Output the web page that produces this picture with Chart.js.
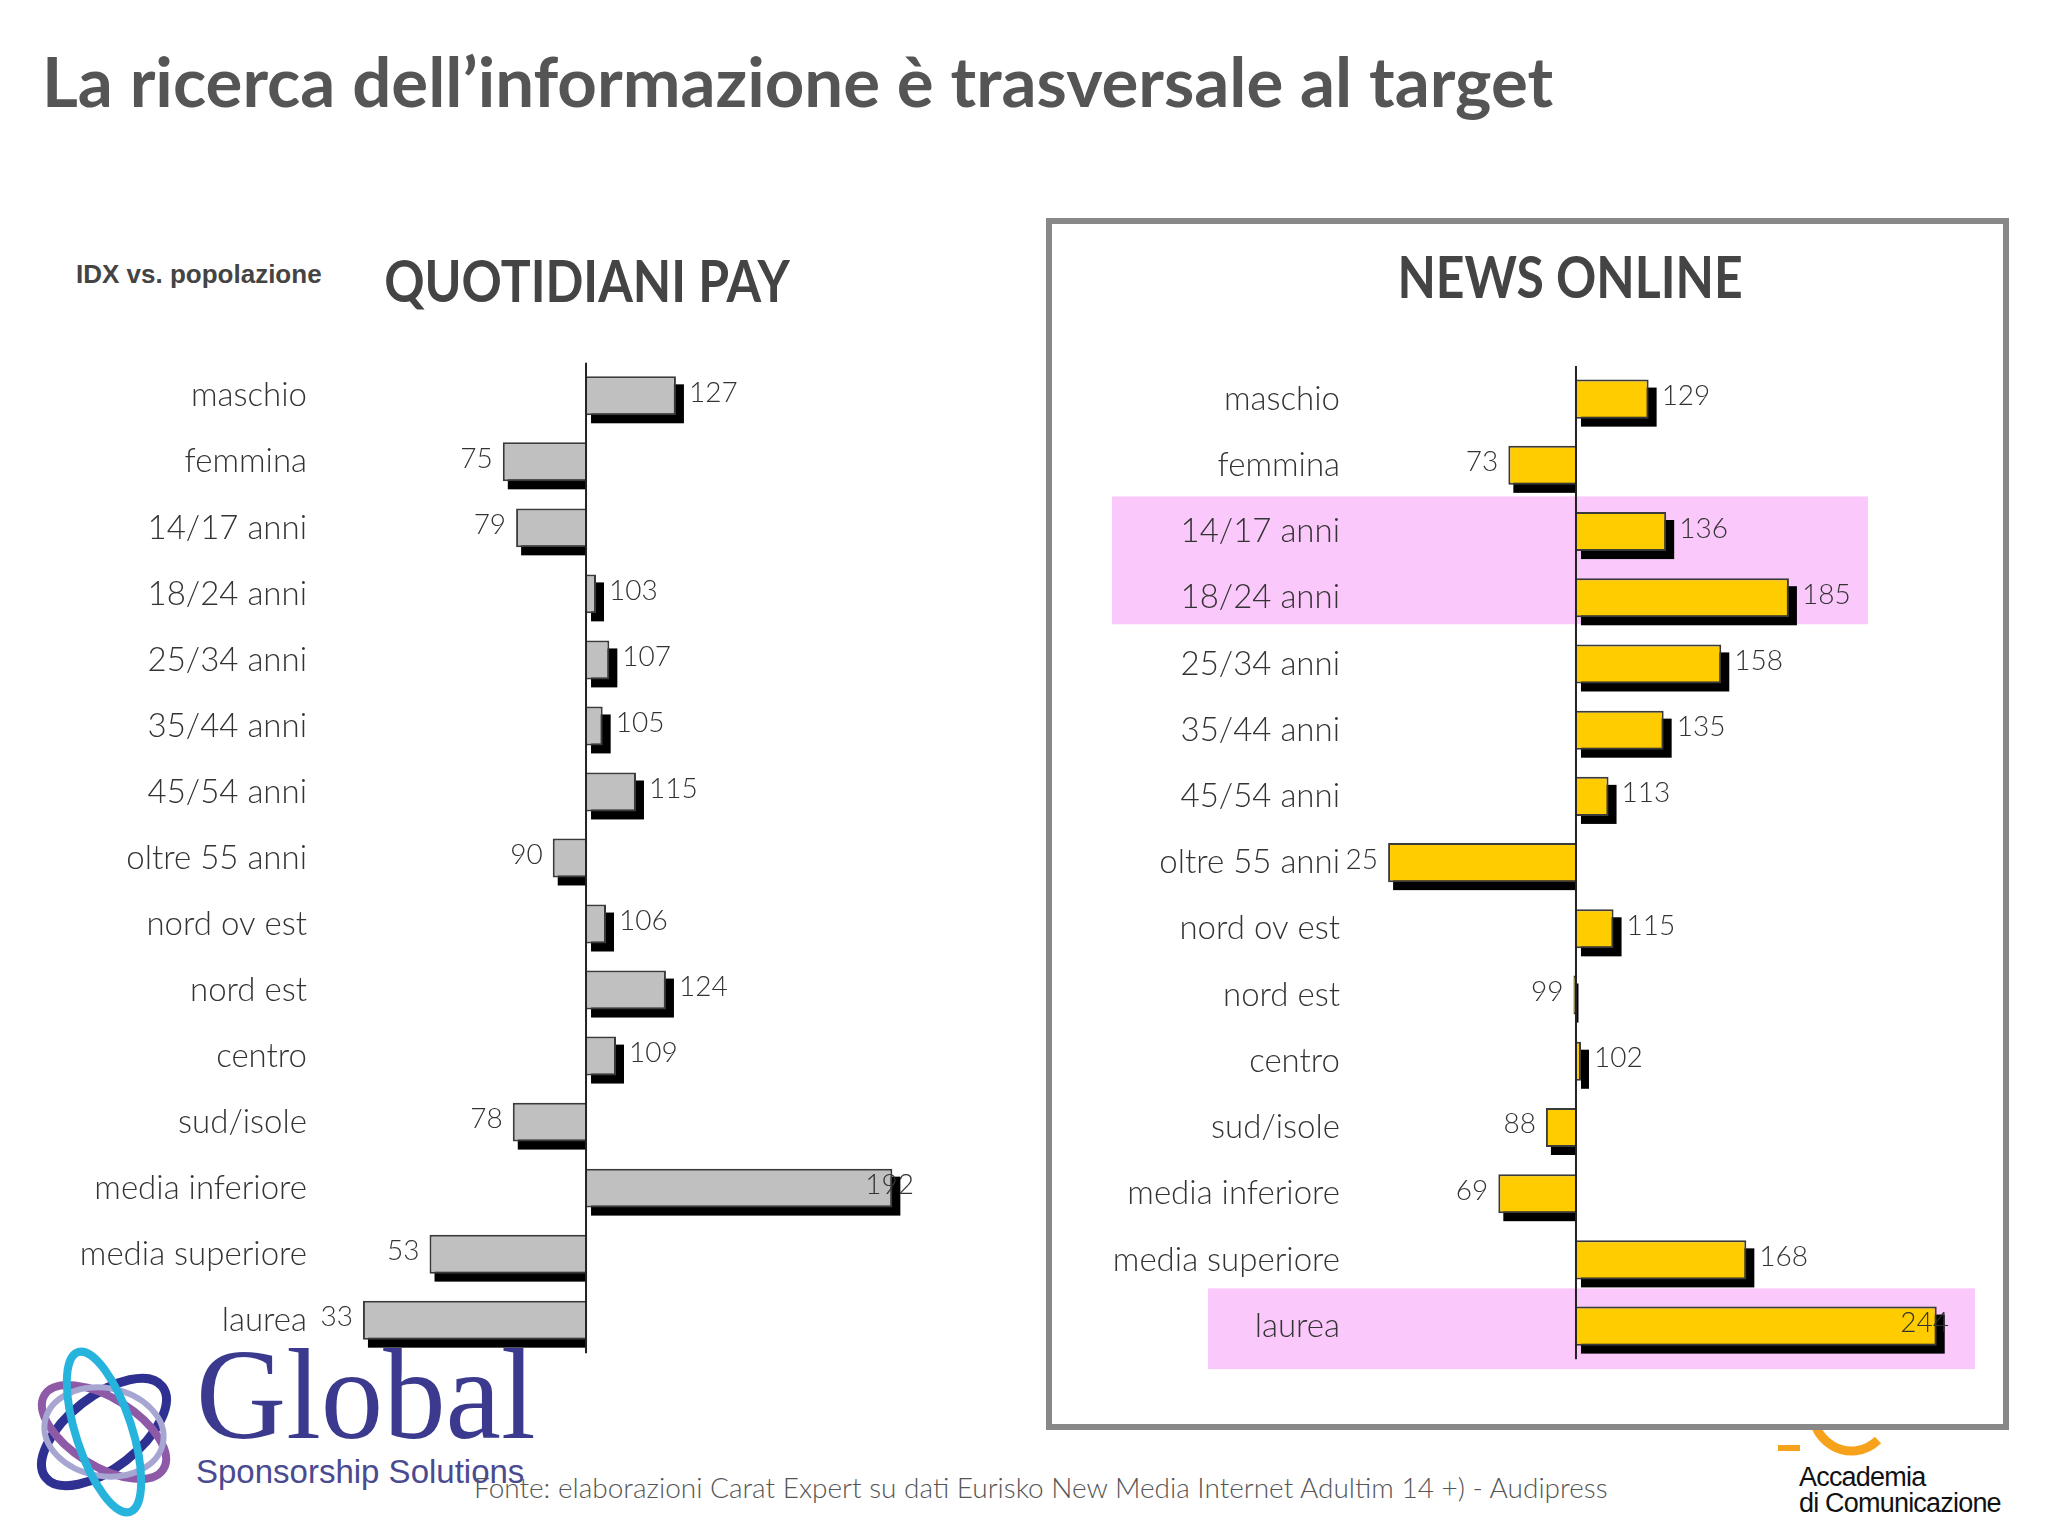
<!DOCTYPE html>
<html lang="it">
<head>
<meta charset="UTF-8">
<title>La ricerca dell’informazione è trasversale al target</title>
<style>
    body { margin: 0; background: #fff; }
    #page { position: relative; width: 2048px; height: 1536px; overflow: hidden; font-family: Lato, sans-serif; }
    .abs { position: absolute; margin: 0; white-space: nowrap; line-height: 1.2; }
    h1.abs { left: 42px; top: 40px; font: bold 69px/1.2 Lato, sans-serif; color: #555; }
    .chart-title { width: 600px; text-align: center; font: bold 58px/1.2 Lato, sans-serif; color: #444; transform: scaleX(0.86); }
    #idx { left: 76px; top: 259px; font: bold 26px/1.2 "Liberation Sans", sans-serif; color: #444; }
    #news-box { position: absolute; left: 1046px; top: 218px; width: 963px; height: 1212px; box-sizing: border-box;
        border: 6px solid #888; background: #fff; z-index: 1; }
    canvas { position: absolute; z-index: 2; }
    #source { left: 474px; top: 1471px; font: 300 28px/1.2 Lato, sans-serif; color: #555; z-index: 3; }
    #global-word { left: 196px; top: 1316px; font: 130px/1.2 "Liberation Serif", serif; color: #3b3a8e; transform: scaleX(0.96); transform-origin: left; }
    #global-sub { left: 196px; top: 1452px; font: 33px/1.2 "Liberation Sans", sans-serif; color: #4a4a90; }
    #accademia { left: 1799px; top: 1464px; font: 27px/26px "Liberation Sans", sans-serif; color: #111; letter-spacing: -0.8px; white-space: pre; }
</style>
</head>
<body>
<div id="page">
    <h1 class="abs">La ricerca dell’informazione è trasversale al target</h1>
    <div id="idx" class="abs">IDX vs. popolazione</div>
    <div class="abs chart-title" style="left: 287px; top: 245px;">QUOTIDIANI PAY</div>

    <svg class="abs" style="left: 1760px; top: 1380px;" width="140" height="80">
        <path d="M18 68 L40 68" stroke="#f7a21b" stroke-width="6" fill="none"/>
        <path d="M52 20 A40 44 0 0 0 118 60" stroke="#f7a21b" stroke-width="9" fill="none"/>
    </svg>
    <div id="news-box"></div>
    <div class="abs chart-title" style="left: 1270px; top: 241px; z-index: 3;">NEWS ONLINE</div>

    <canvas id="pay-chart" width="940" height="1036" style="left: 0; top: 340px;"></canvas>
    <canvas id="news-chart" width="930" height="1040" style="left: 1050px; top: 342px;"></canvas>

    <svg class="abs" style="left: 22px; top: 1340px;" width="165" height="180" viewBox="0 0 165 180">
        <ellipse cx="82" cy="92" rx="74" ry="36" transform="rotate(-38 82 92)" fill="none" stroke="#2e3192" stroke-width="9"/>
        <ellipse cx="82" cy="92" rx="70" ry="34" transform="rotate(32 82 92)" fill="none" stroke="#8e5aa8" stroke-width="8"/>
        <ellipse cx="82" cy="92" rx="60" ry="44" transform="rotate(10 82 92)" fill="none" stroke="#a7a6d2" stroke-width="6"/>
        <ellipse cx="82" cy="92" rx="84" ry="28" transform="rotate(72 82 92)" fill="none" stroke="#27b4dc" stroke-width="8"/>
    </svg>
    <div id="global-word" class="abs">Global</div>
    <div id="global-sub" class="abs">Sponsorship Solutions</div>
    <div id="source" class="abs">Fonte: elaborazioni Carat Expert su dati Eurisko New Media Internet Adultim 14 +) - Audipress</div>
    <div id="accademia" class="abs">Accademia
di Comunicazione</div>
</div>

<script src="https://cdn.jsdelivr.net/npm/chart.js"></script>
<script>
    // categories and index values (100 = population)
    const categories = ['maschio', 'femmina', '14/17 anni', '18/24 anni', '25/34 anni', '35/44 anni', '45/54 anni',
        'oltre 55 anni', 'nord ov est', 'nord est', 'centro', 'sud/isole', 'media inferiore', 'media superiore', 'laurea'];
    const quotidianiPay = [127, 75, 79, 103, 107, 105, 115, 90, 106, 124, 109, 78, 192, 53, 33];
    const newsOnline = [129, 73, 136, 185, 158, 135, 113, 25, 115, 99, 102, 88, 69, 168, 244];
    const baseIndex = 100;
    const highlighted = [['14/17 anni', '18/24 anni'], ['laurea']];

    const labelFont = { family: 'Lato', size: 33, weight: '300' };
    const valueFont = '300 28px Lato';

    // pink marker behind some rows
    const bandsPlugin = {
        id: 'bands',
        beforeDraw(chart, args, opts) {
            if (!opts.rows) return;
            const { ctx, chartArea } = chart;
            const y = chart.scales.y;
            const step = y.getPixelForValue(1) - y.getPixelForValue(0);
            ctx.save();
            ctx.fillStyle = '#fac8fa';
            opts.rows.forEach((rows, i) => {
                const s = opts.shape[i];
                const top = y.getPixelForValue(categories.indexOf(rows[0])) - s.up * step;
                const bottom = y.getPixelForValue(categories.indexOf(rows[rows.length - 1])) + s.down * step;
                ctx.fillRect(chartArea.left + s.x0, top, s.x1 - s.x0, bottom - top);
            });
            ctx.restore();
        }
    };

    // black drop shadow under each bar
    const shadowPlugin = {
        id: 'barShadow',
        beforeDatasetsDraw(chart) {
            const ctx = chart.ctx;
            const values = chart.data.datasets[0].data;
            ctx.save();
            ctx.fillStyle = '#000';
            chart.getDatasetMeta(0).data.forEach((bar, i) => {
                const { x, y, base, height } = bar.getProps(['x', 'y', 'base', 'height'], true);
                const left = Math.min(x, base), right = Math.max(x, base);
                const x1 = values[i] >= baseIndex ? right + 8 : right;
                ctx.fillRect(left + 5, y - height / 2 + 8, x1 - left - 5, height);
            });
            ctx.restore();
        }
    };

    // vertical line at 100 and value labels
    const axisAndLabels = {
        id: 'axisAndLabels',
        afterDatasetsDraw(chart) {
            const { ctx, chartArea } = chart;
            const values = chart.data.datasets[0].data;
            const x100 = chart.scales.x.getPixelForValue(baseIndex);
            ctx.save();
            ctx.strokeStyle = '#222';
            ctx.lineWidth = 2;
            ctx.beginPath();
            ctx.moveTo(x100, chartArea.top);
            ctx.lineTo(x100, chartArea.bottom);
            ctx.stroke();

            ctx.font = valueFont;
            ctx.fillStyle = '#333';
            ctx.textBaseline = 'middle';
            chart.getDatasetMeta(0).data.forEach((bar, i) => {
                const text = String(values[i]);
                const w = ctx.measureText(text).width;
                let tx;
                if (values[i] >= baseIndex) {
                    tx = Math.min(bar.x + 13, chartArea.right - w);
                } else {
                    tx = bar.x - 10 - w;
                }
                ctx.textAlign = 'left';
                ctx.fillText(text, tx, bar.y - 3);
            });
            ctx.restore();
        }
    };

    function makeChart(id, values, fill, cfg) {
        return new Chart(document.getElementById(id), {
            type: 'bar',
            data: {
                labels: categories,
                datasets: [{
                    data: values,
                    base: baseIndex,
                    backgroundColor: fill,
                    borderColor: '#3a3a3a',
                    borderWidth: 2,
                    barPercentage: 0.59,
                    categoryPercentage: 1
                }]
            },
            options: {
                indexAxis: 'y',
                responsive: false,
                animation: false,
                layout: { padding: cfg.padding },
                scales: {
                    x: { display: false, min: cfg.min, max: cfg.max },
                    y: {
                        grid: { display: false, drawTicks: false },
                        border: { display: false },
                        ticks: { color: '#333', font: labelFont, padding: 3 },
                        afterFit: scale => { scale.width = cfg.axisWidth; }
                    }
                },
                plugins: {
                    legend: { display: false },
                    tooltip: { enabled: false },
                    bands: cfg.bands || {}
                }
            },
            plugins: [bandsPlugin, shadowPlugin, axisAndLabels]
        });
    }

    makeChart('pay-chart', quotidianiPay, '#c0c0c0', {
        padding: { top: 19, bottom: 20, right: 26, left: 0 },
        axisWidth: 310,
        min: 17.1,
        max: 198.5
    });

    makeChart('news-chart', newsOnline, '#ffcc00', {
        padding: { top: 24, bottom: 19, right: 31, left: 0 },
        axisWidth: 293,
        min: 7.0,
        max: 248.9,
        bands: {
            rows: highlighted,
            shape: [
                { x0: -231, x1: 525, up: 0.53, down: 0.4 },
                { x0: -135, x1: 632, up: 0.57, down: 0.65 }
            ]
        }
    });
</script>
</body>
</html>
